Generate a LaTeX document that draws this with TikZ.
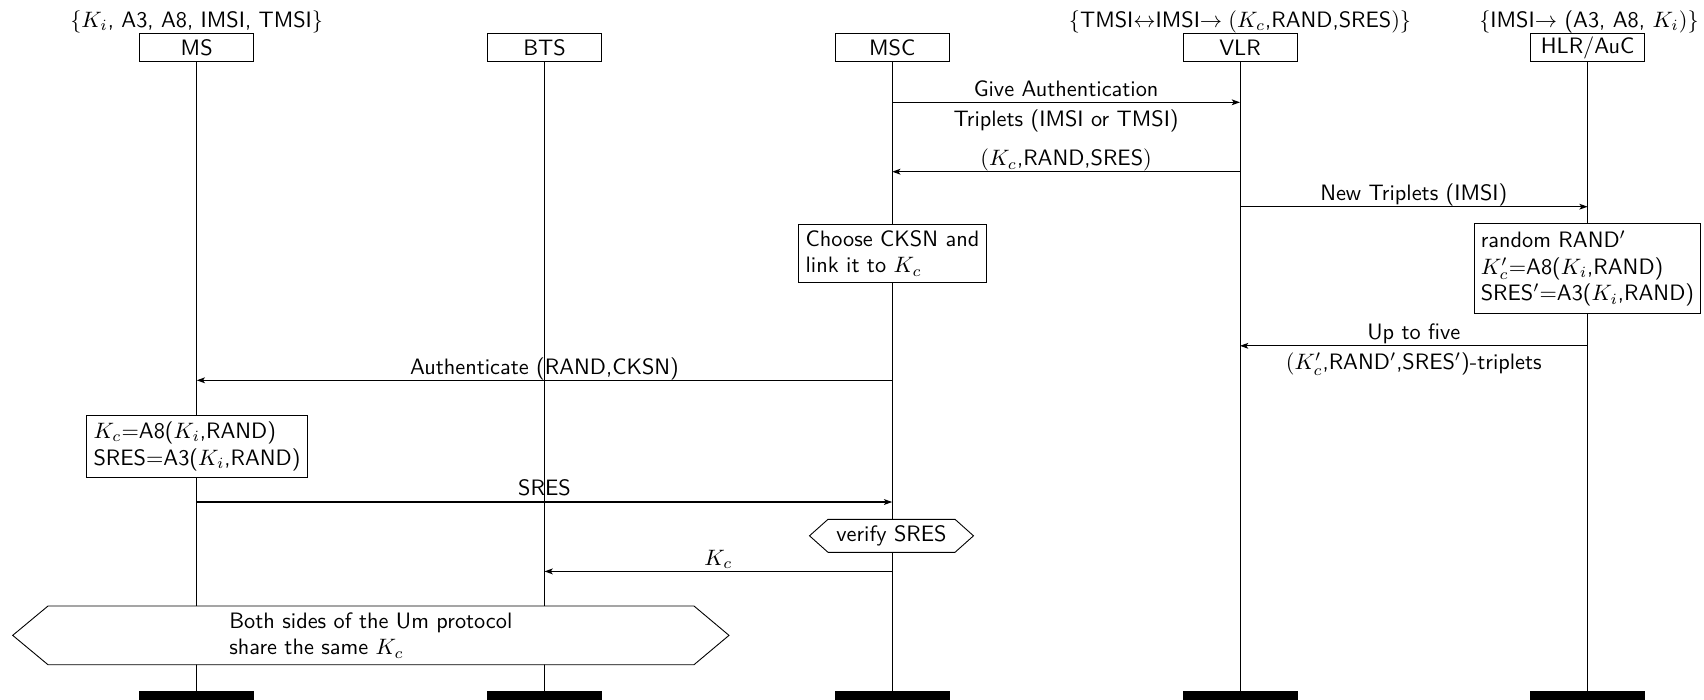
\documentclass[tikz,border=0pt]{standalone}
\usetikzlibrary{calc,arrows.meta}
\begin{document}
\begin{tikzpicture}[x=0.4484pt,y=-0.4484pt, font=\sffamily,
  headbox/.style={draw, fill=white, minimum width=51.1pt, minimum height=12.6pt, inner sep=0pt},
  footbox/.style={draw, fill=black, minimum width=51.1pt, minimum height=12.6pt, inner sep=0pt},
  life/.style={draw},
  msg/.style={-{Stealth[length=3.7pt,width=2.6pt,inset=0.9pt]}, line width=0.5pt},
  abv/.style={midway, anchor=base, yshift=2.7pt, inner sep=0pt},
  blw/.style={midway, anchor=base, yshift=-10.8pt, inner sep=0pt},
  actbox/.style={draw, fill=white, inner sep=0pt, align=left},
  lbl/.style={anchor=base, inner sep=0pt},
  hexa/.style={draw, fill=white},
  hexlbl/.style={inner sep=0pt, align=left}]
\useasboundingbox (0,0) rectangle (1704,699);

% heads
\node[headbox] (ms)  at (196.7,47.6) {MS};
\node[headbox] (bts) at (544.5,47.6) {BTS};
\node[headbox] (msc) at (892.2,47.6) {MSC};
\node[headbox] (vlr) at (1240,47.6) {VLR};
\node[headbox] (hlr) at (1587.6,47.6) {HLR/AuC};

% head labels
\node[lbl] (msl)  at (196.7,27) {$\{K_i$, A3, A8, IMSI, TMSI$\}$};
\node[lbl] (vlrl) at (1240,27) {$\{$TMSI$\leftrightarrow$IMSI$\rightarrow (K_c$,RAND,SRES$)\}$};
\node[lbl] (hlrl) at (1589,27) {$\{$IMSI$\rightarrow$ (A3, A8, $K_i)\}$};

% feet
\node[footbox] (msf)  at (196.7,705.7) {};
\node[footbox] (btsf) at (544.5,705.7) {};
\node[footbox] (mscf) at (892.2,705.7) {};
\node[footbox] (vlrf) at (1240,705.7) {};
\node[footbox] (hlrf) at (1587.6,705.7) {};

% lifelines
\draw[life] (ms) -- (msf);
\draw[life] (bts) -- (btsf);
\draw[life] (msc) -- (mscf);
\draw[life] (vlr) -- (vlrf);
\draw[life] (hlr) -- (hlrf);

% message end points
\coordinate (m1a) at (msc.center |- 0,102.3);
\coordinate (m1b) at (vlr.center |- 0,102.3);
\coordinate (m2a) at (vlr.center |- 0,171.7);
\coordinate (m2b) at (msc.center |- 0,171.7);
\coordinate (m3a) at (vlr.center |- 0,206.7);
\coordinate (m3b) at (hlr.center |- 0,206.7);
\coordinate (m4a) at (hlr.center |- 0,345.8);
\coordinate (m4b) at (vlr.center |- 0,345.8);
\coordinate (m5a) at (msc.center |- 0,380.3);
\coordinate (m5b) at (ms.center |- 0,380.3);
\coordinate (m6a) at (ms.center |- 0,502);
\coordinate (m6b) at (msc.center |- 0,502);
\coordinate (m7a) at (msc.center |- 0,571.4);
\coordinate (m7b) at (bts.center |- 0,571.4);

\draw[msg] (m1a) -- node[abv] {Give Authentication} node[blw] {Triplets (IMSI or TMSI)} (m1b);
\draw[msg] (m2a) -- node[abv] {$(K_c$,RAND,SRES$)$} (m2b);
\draw[msg] (m3a) -- node[abv] {New Triplets (IMSI)} (m3b);
\draw[msg] (m4a) -- node[abv] {Up to five} node[blw] {$(K'_c$,RAND$'$,SRES$'$)-triplets} (m4b);
\draw[msg] (m5a) -- node[abv] {Authenticate (RAND,CKSN)} (m5b);
\draw[msg] (m6a) -- node[abv] {SRES} (m6b);
\draw[msg] (m7a) -- node[abv] {$K_c$} (m7b);

% action boxes
\node[actbox, minimum width=84.5pt, minimum height=26.1pt] (cksn) at (892.5,253.2)
  {Choose CKSN and\\link it to $K_c$};
\node[actbox, minimum width=101.6pt, minimum height=40.2pt] (hlrc) at (1587.4,268.6)
  {random RAND$'$\\$K'_c{=}$A8($K_i$,RAND)\\SRES$'{=}$A3($K_i$,RAND)};
\node[actbox, minimum width=98.9pt, minimum height=27.9pt] (msc2) at (197,446.2)
  {$K_c{=}$A8($K_i$,RAND)\\SRES${=}$A3($K_i$,RAND)};

% hexagons
\draw[hexa] (809.5,535.8) -- (828,519.3) -- (955,519.3) -- (973.5,535.8) -- (955,552.3) -- (828,552.3) -- cycle;
\node[hexlbl] (vs) at (891.5,535.8) {verify SRES};
\draw[hexa] (12.7,635.35) -- (48,606) -- (694,606) -- (729,635.35) -- (694,664.7) -- (48,664.7) -- cycle;
\node[hexlbl] (um) at (370.85,635.35) {Both sides of the Um protocol\\share the same $K_c$};
\end{tikzpicture}
\end{document}
